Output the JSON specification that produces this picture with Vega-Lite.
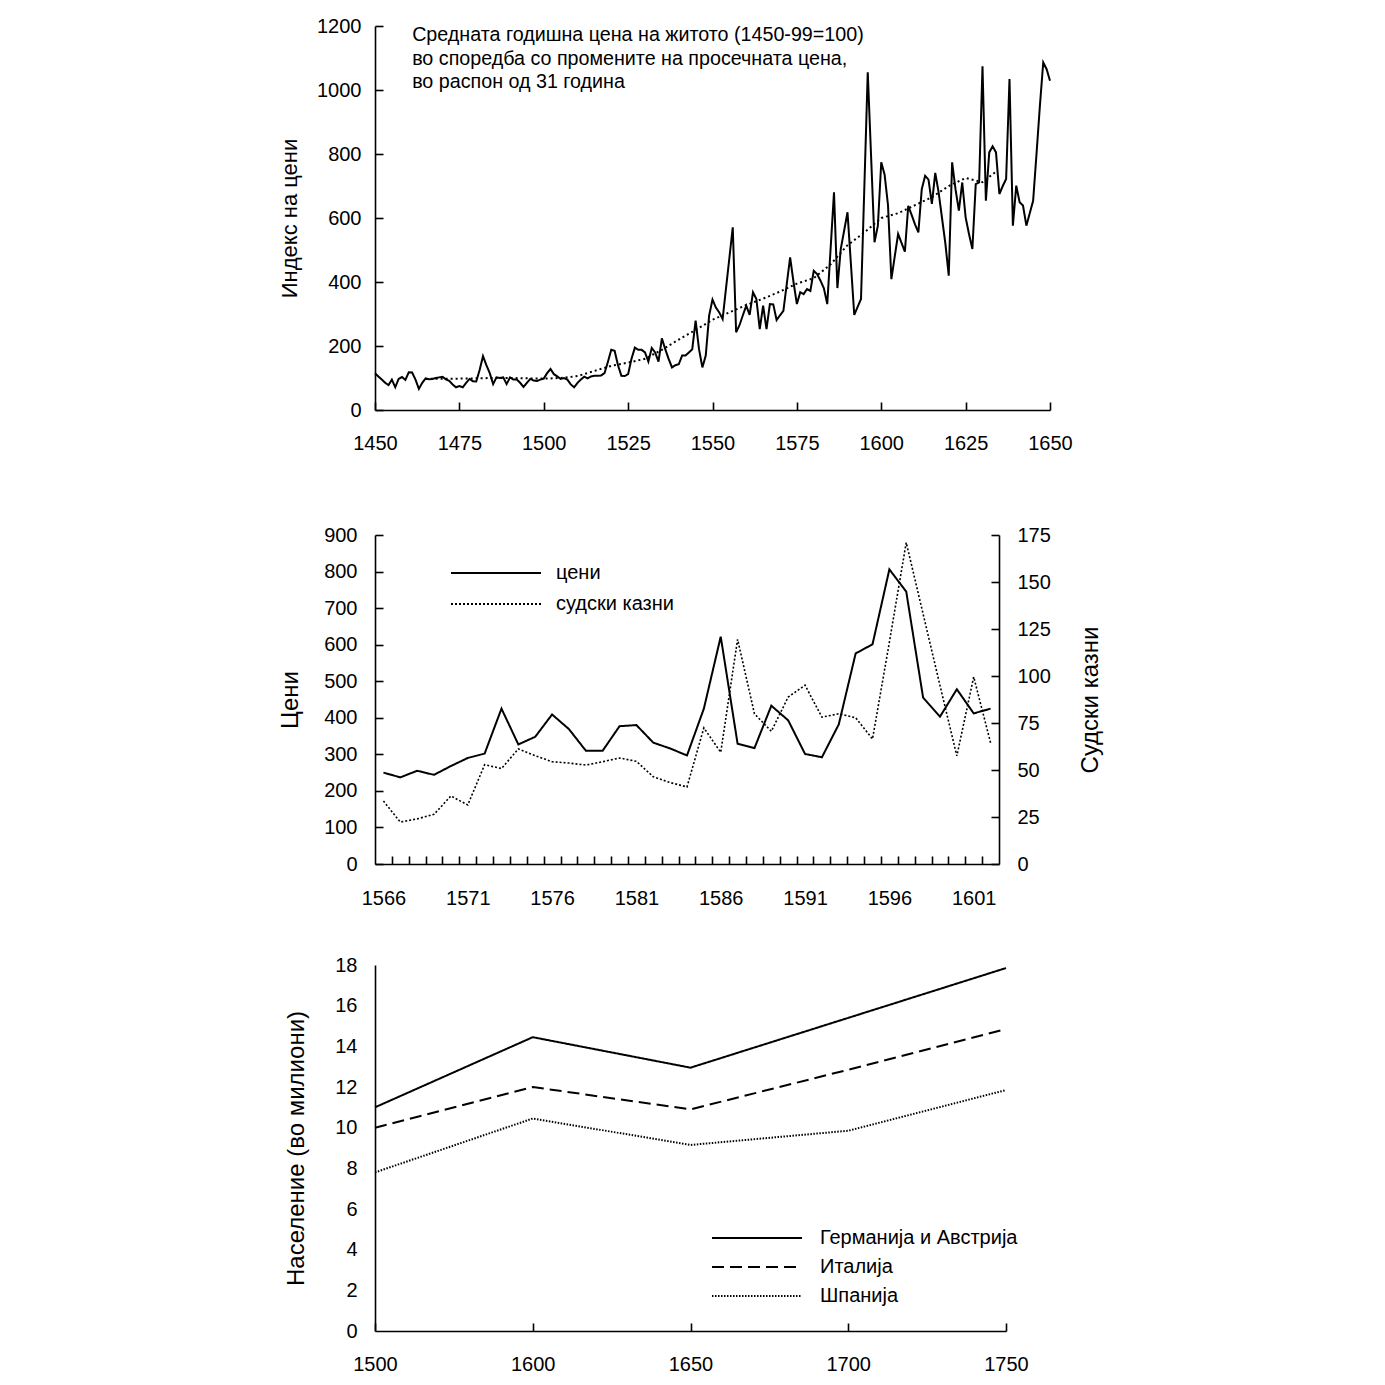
{
  "$schema": "https://vega.github.io/schema/vega-lite/v6.json",
  "background": "white",
  "padding": {"left": 278, "top": 16, "right": 5, "bottom": 5},
  "config": {
    "view": {"stroke": null},
    "font": "Liberation Sans",
    "axis": {"domainColor": "black", "domainWidth": 1.6, "tickColor": "black", "tickWidth": 1.6, "labelColor": "black", "labelFontSize": 20, "labelFont": "Liberation Sans", "titleFont": "Liberation Sans", "titleFontSize": 22, "titleFontWeight": "normal", "titleColor": "black", "grid": false, "labelFlush": false, "labelOverlap": false, "labelBound": false},
    "legend": {"labelFont": "Liberation Sans", "labelFontSize": 20, "labelColor": "black", "labelLimit": 0}
  },
  "resolve": {"scale": {"strokeDash": "independent"}, "legend": {"strokeDash": "independent"}},
  "datasets": {
    "prices": [
      {"year": 1450, "index": 115}, {"year": 1451, "index": 105}, {"year": 1452, "index": 95}, {"year": 1453, "index": 85}, {"year": 1454, "index": 78}, {"year": 1455, "index": 95}, {"year": 1456, "index": 71}, {"year": 1457, "index": 97}, {"year": 1458, "index": 103}, {"year": 1459, "index": 94}, {"year": 1460, "index": 118}, {"year": 1461, "index": 117}, {"year": 1462, "index": 95}, {"year": 1463, "index": 66}, {"year": 1464, "index": 85}, {"year": 1465, "index": 99}, {"year": 1466, "index": 96}, {"year": 1467, "index": 97}, {"year": 1468, "index": 100}, {"year": 1469, "index": 102}, {"year": 1470, "index": 104}, {"year": 1471, "index": 96}, {"year": 1472, "index": 91}, {"year": 1473, "index": 80}, {"year": 1474, "index": 71}, {"year": 1475, "index": 75}, {"year": 1476, "index": 71}, {"year": 1477, "index": 85}, {"year": 1478, "index": 97}, {"year": 1479, "index": 90}, {"year": 1480, "index": 89}, {"year": 1481, "index": 125}, {"year": 1482, "index": 168}, {"year": 1483, "index": 140}, {"year": 1484, "index": 115}, {"year": 1485, "index": 81}, {"year": 1486, "index": 102}, {"year": 1487, "index": 100}, {"year": 1488, "index": 102}, {"year": 1489, "index": 81}, {"year": 1490, "index": 102}, {"year": 1491, "index": 95}, {"year": 1492, "index": 95}, {"year": 1493, "index": 85}, {"year": 1494, "index": 72}, {"year": 1495, "index": 85}, {"year": 1496, "index": 97}, {"year": 1497, "index": 92}, {"year": 1498, "index": 91}, {"year": 1499, "index": 95},
      {"year": 1500, "index": 98}, {"year": 1501, "index": 115}, {"year": 1502, "index": 128}, {"year": 1503, "index": 112}, {"year": 1504, "index": 105}, {"year": 1505, "index": 97}, {"year": 1506, "index": 100}, {"year": 1507, "index": 95}, {"year": 1508, "index": 80}, {"year": 1509, "index": 71}, {"year": 1510, "index": 85}, {"year": 1511, "index": 95}, {"year": 1512, "index": 104}, {"year": 1513, "index": 99}, {"year": 1514, "index": 105}, {"year": 1515, "index": 107}, {"year": 1516, "index": 107}, {"year": 1517, "index": 108}, {"year": 1518, "index": 115}, {"year": 1519, "index": 150}, {"year": 1520, "index": 188}, {"year": 1521, "index": 185}, {"year": 1522, "index": 140}, {"year": 1523, "index": 107}, {"year": 1524, "index": 106}, {"year": 1525, "index": 112}, {"year": 1526, "index": 160}, {"year": 1527, "index": 195}, {"year": 1528, "index": 188}, {"year": 1529, "index": 188}, {"year": 1530, "index": 180}, {"year": 1531, "index": 151}, {"year": 1532, "index": 194}, {"year": 1533, "index": 180}, {"year": 1534, "index": 151}, {"year": 1535, "index": 224}, {"year": 1536, "index": 190}, {"year": 1537, "index": 160}, {"year": 1538, "index": 133}, {"year": 1539, "index": 140}, {"year": 1540, "index": 143}, {"year": 1541, "index": 170}, {"year": 1542, "index": 170}, {"year": 1543, "index": 180}, {"year": 1544, "index": 190}, {"year": 1545, "index": 279}, {"year": 1546, "index": 190}, {"year": 1547, "index": 133}, {"year": 1548, "index": 170}, {"year": 1549, "index": 295},
      {"year": 1550, "index": 345}, {"year": 1551, "index": 320}, {"year": 1552, "index": 305}, {"year": 1553, "index": 284}, {"year": 1554, "index": 380}, {"year": 1555, "index": 475}, {"year": 1556, "index": 571}, {"year": 1557, "index": 243}, {"year": 1558, "index": 265}, {"year": 1559, "index": 296}, {"year": 1560, "index": 326}, {"year": 1561, "index": 297}, {"year": 1562, "index": 368}, {"year": 1563, "index": 347}, {"year": 1564, "index": 253}, {"year": 1565, "index": 326}, {"year": 1566, "index": 253}, {"year": 1567, "index": 331}, {"year": 1568, "index": 330}, {"year": 1569, "index": 281}, {"year": 1570, "index": 296}, {"year": 1571, "index": 310}, {"year": 1572, "index": 393}, {"year": 1573, "index": 477}, {"year": 1574, "index": 400}, {"year": 1575, "index": 331}, {"year": 1576, "index": 368}, {"year": 1577, "index": 362}, {"year": 1578, "index": 378}, {"year": 1579, "index": 372}, {"year": 1580, "index": 435}, {"year": 1581, "index": 425}, {"year": 1582, "index": 404}, {"year": 1583, "index": 380}, {"year": 1584, "index": 331}, {"year": 1585, "index": 505}, {"year": 1586, "index": 680}, {"year": 1587, "index": 381}, {"year": 1588, "index": 503}, {"year": 1589, "index": 560}, {"year": 1590, "index": 618}, {"year": 1591, "index": 458}, {"year": 1592, "index": 297}, {"year": 1593, "index": 322}, {"year": 1594, "index": 347}, {"year": 1595, "index": 700}, {"year": 1596, "index": 1055}, {"year": 1597, "index": 790}, {"year": 1598, "index": 524}, {"year": 1599, "index": 576},
      {"year": 1600, "index": 774}, {"year": 1601, "index": 735}, {"year": 1602, "index": 640}, {"year": 1603, "index": 409}, {"year": 1604, "index": 480}, {"year": 1605, "index": 550}, {"year": 1606, "index": 522}, {"year": 1607, "index": 495}, {"year": 1608, "index": 638}, {"year": 1609, "index": 610}, {"year": 1610, "index": 580}, {"year": 1611, "index": 555}, {"year": 1612, "index": 690}, {"year": 1613, "index": 732}, {"year": 1614, "index": 720}, {"year": 1615, "index": 644}, {"year": 1616, "index": 741}, {"year": 1617, "index": 680}, {"year": 1618, "index": 600}, {"year": 1619, "index": 520}, {"year": 1620, "index": 420}, {"year": 1621, "index": 774}, {"year": 1622, "index": 690}, {"year": 1623, "index": 623}, {"year": 1624, "index": 711}, {"year": 1625, "index": 602}, {"year": 1626, "index": 550}, {"year": 1627, "index": 503}, {"year": 1628, "index": 706}, {"year": 1629, "index": 711}, {"year": 1630, "index": 1074}, {"year": 1631, "index": 654}, {"year": 1632, "index": 805}, {"year": 1633, "index": 824}, {"year": 1634, "index": 805}, {"year": 1635, "index": 675}, {"year": 1636, "index": 700}, {"year": 1637, "index": 722}, {"year": 1638, "index": 1034}, {"year": 1639, "index": 576}, {"year": 1640, "index": 701}, {"year": 1641, "index": 649}, {"year": 1642, "index": 639}, {"year": 1643, "index": 576}, {"year": 1644, "index": 615}, {"year": 1645, "index": 654}, {"year": 1646, "index": 800}, {"year": 1647, "index": 950}, {"year": 1648, "index": 1086}, {"year": 1649, "index": 1065}, {"year": 1650, "index": 1029}
    ],
    "trend": [
      {"year": 1465, "index": 97}, {"year": 1470, "index": 98}, {"year": 1475, "index": 98}, {"year": 1480, "index": 99}, {"year": 1485, "index": 100}, {"year": 1490, "index": 100}, {"year": 1495, "index": 99}, {"year": 1500, "index": 98}, {"year": 1505, "index": 100}, {"year": 1510, "index": 106}, {"year": 1515, "index": 122}, {"year": 1520, "index": 138}, {"year": 1525, "index": 148}, {"year": 1530, "index": 160}, {"year": 1535, "index": 188}, {"year": 1540, "index": 220}, {"year": 1545, "index": 250}, {"year": 1550, "index": 282}, {"year": 1555, "index": 305}, {"year": 1560, "index": 328}, {"year": 1565, "index": 348}, {"year": 1570, "index": 370}, {"year": 1575, "index": 395}, {"year": 1580, "index": 412}, {"year": 1585, "index": 455}, {"year": 1590, "index": 515}, {"year": 1595, "index": 555}, {"year": 1600, "index": 600}, {"year": 1605, "index": 615}, {"year": 1610, "index": 640}, {"year": 1615, "index": 665}, {"year": 1620, "index": 700}, {"year": 1625, "index": 725}, {"year": 1630, "index": 712}, {"year": 1634, "index": 745}
    ],
    "court": [
      {"year": 1566, "series": "цени", "value": 250}, {"year": 1567, "series": "цени", "value": 237}, {"year": 1568, "series": "цени", "value": 255}, {"year": 1569, "series": "цени", "value": 244}, {"year": 1570, "series": "цени", "value": 268}, {"year": 1571, "series": "цени", "value": 290}, {"year": 1572, "series": "цени", "value": 302}, {"year": 1573, "series": "цени", "value": 425}, {"year": 1574, "series": "цени", "value": 327}, {"year": 1575, "series": "цени", "value": 348}, {"year": 1576, "series": "цени", "value": 409}, {"year": 1577, "series": "цени", "value": 369}, {"year": 1578, "series": "цени", "value": 310}, {"year": 1579, "series": "цени", "value": 310}, {"year": 1580, "series": "цени", "value": 377}, {"year": 1581, "series": "цени", "value": 380}, {"year": 1582, "series": "цени", "value": 332}, {"year": 1583, "series": "цени", "value": 316}, {"year": 1584, "series": "цени", "value": 297}, {"year": 1585, "series": "цени", "value": 425}, {"year": 1586, "series": "цени", "value": 622}, {"year": 1587, "series": "цени", "value": 329}, {"year": 1588, "series": "цени", "value": 317}, {"year": 1589, "series": "цени", "value": 433}, {"year": 1590, "series": "цени", "value": 393}, {"year": 1591, "series": "цени", "value": 301}, {"year": 1592, "series": "цени", "value": 292}, {"year": 1593, "series": "цени", "value": 382}, {"year": 1594, "series": "цени", "value": 576}, {"year": 1595, "series": "цени", "value": 601}, {"year": 1596, "series": "цени", "value": 806}, {"year": 1597, "series": "цени", "value": 745}, {"year": 1598, "series": "цени", "value": 455}, {"year": 1599, "series": "цени", "value": 403}, {"year": 1600, "series": "цени", "value": 478}, {"year": 1601, "series": "цени", "value": 412}, {"year": 1602, "series": "цени", "value": 425},
      {"year": 1566, "series": "судски казни", "value": 33.5}, {"year": 1567, "series": "судски казни", "value": 22.3}, {"year": 1568, "series": "судски казни", "value": 24}, {"year": 1569, "series": "судски казни", "value": 26.4}, {"year": 1570, "series": "судски казни", "value": 36.2}, {"year": 1571, "series": "судски казни", "value": 31.4}, {"year": 1572, "series": "судски казни", "value": 52.8}, {"year": 1573, "series": "судски казни", "value": 50.8}, {"year": 1574, "series": "судски казни", "value": 61.2}, {"year": 1575, "series": "судски казни", "value": 57.6}, {"year": 1576, "series": "судски казни", "value": 54.4}, {"year": 1577, "series": "судски казни", "value": 53.7}, {"year": 1578, "series": "судски казни", "value": 52.6}, {"year": 1579, "series": "судски казни", "value": 54.4}, {"year": 1580, "series": "судски казни", "value": 56.4}, {"year": 1581, "series": "судски казни", "value": 54.6}, {"year": 1582, "series": "судски казни", "value": 46.4}, {"year": 1583, "series": "судски казни", "value": 43.3}, {"year": 1584, "series": "судски казни", "value": 41}, {"year": 1585, "series": "судски казни", "value": 72.4}, {"year": 1586, "series": "судски казни", "value": 59.4}, {"year": 1587, "series": "судски казни", "value": 119.5}, {"year": 1588, "series": "судски казни", "value": 79.9}, {"year": 1589, "series": "судски казни", "value": 70.6}, {"year": 1590, "series": "судски казни", "value": 88.8}, {"year": 1591, "series": "судски казни", "value": 95.1}, {"year": 1592, "series": "судски казни", "value": 78.1}, {"year": 1593, "series": "судски казни", "value": 79.9}, {"year": 1594, "series": "судски казни", "value": 77.8}, {"year": 1595, "series": "судски казни", "value": 66.5}, {"year": 1596, "series": "судски казни", "value": 118}, {"year": 1597, "series": "судски казни", "value": 171}, {"year": 1598, "series": "судски казни", "value": 133}, {"year": 1599, "series": "судски казни", "value": 95}, {"year": 1600, "series": "судски казни", "value": 57.5}, {"year": 1601, "series": "судски казни", "value": 99.5}, {"year": 1602, "series": "судски казни", "value": 64.5}
    ],
    "pop": [
      {"year": 1500, "country": "Германија и Австрија", "pop": 11.0}, {"year": 1600, "country": "Германија и Австрија", "pop": 14.45}, {"year": 1650, "country": "Германија и Австрија", "pop": 12.95}, {"year": 1700, "country": "Германија и Австрија", "pop": 15.4}, {"year": 1750, "country": "Германија и Австрија", "pop": 17.85},
      {"year": 1500, "country": "Италија", "pop": 10.0}, {"year": 1600, "country": "Италија", "pop": 12.0}, {"year": 1650, "country": "Италија", "pop": 10.9}, {"year": 1700, "country": "Италија", "pop": 12.85}, {"year": 1750, "country": "Италија", "pop": 14.85},
      {"year": 1500, "country": "Шпанија", "pop": 7.8}, {"year": 1600, "country": "Шпанија", "pop": 10.45}, {"year": 1650, "country": "Шпанија", "pop": 9.15}, {"year": 1700, "country": "Шпанија", "pop": 9.85}, {"year": 1750, "country": "Шпанија", "pop": 11.85}
    ]
  },
  "bounds": "flush",
  "spacing": 101,
  "vconcat": [
    {
      "width": 675,
      "height": 384,
      "layer": [
        {
          "data": {"name": "prices"},
          "mark": {"type": "line", "color": "black", "strokeWidth": 2},
          "encoding": {
            "x": {"field": "year", "type": "quantitative", "scale": {"domain": [1450, 1650], "nice": false, "zero": false},
                  "axis": {"title": null, "values": [1450, 1475, 1500, 1525, 1550, 1575, 1600, 1625, 1650], "format": "d", "tickSize": -8, "labelPadding": 31, "labelOverlap": false}},
            "y": {"field": "index", "type": "quantitative", "scale": {"domain": [0, 1200], "nice": false},
                  "axis": {"title": "Индекс на цени", "values": [0, 200, 400, 600, 800, 1000, 1200], "format": "d", "tickSize": -8, "labelPadding": 22, "titlePadding": 15, "titleFontSize": 22}}
          }
        },
        {
          "data": {"name": "trend"},
          "mark": {"type": "line", "color": "black", "strokeWidth": 2, "strokeDash": [2, 3]},
          "encoding": {
            "x": {"field": "year", "type": "quantitative"},
            "y": {"field": "index", "type": "quantitative"}
          }
        },
        {
          "data": {"values": [{"note": "annotation"}]},
          "mark": {"type": "text", "align": "left", "baseline": "alphabetic", "fontSize": 19.7, "lineHeight": 23.5, "font": "Liberation Sans", "color": "black"},
          "encoding": {
            "x": {"datum": 1461, "type": "quantitative"},
            "y": {"datum": 1153, "type": "quantitative"},
            "text": {"value": ["Средната годишна цена на житото (1450-99=100)", "во споредба со промените на просечната цена,", "во распон од 31 година"]}
          }
        }
      ]
    },
    {
      "width": 624,
      "height": 353,
      "layer": [
        {
          "data": {"name": "court"},
          "transform": [{"filter": "datum.series === 'цени'"}],
          "mark": {"type": "line", "color": "black", "strokeWidth": 2},
          "encoding": {
            "x": {"field": "year", "type": "quantitative", "scale": {"domain": [1565.5, 1602.5], "nice": false, "zero": false},
                  "axis": {"title": null, "values": [1566, 1567, 1568, 1569, 1570, 1571, 1572, 1573, 1574, 1575, 1576, 1577, 1578, 1579, 1580, 1581, 1582, 1583, 1584, 1585, 1586, 1587, 1588, 1589, 1590, 1591, 1592, 1593, 1594, 1595, 1596, 1597, 1598, 1599, 1600, 1601],
                           "format": "d", "tickOffset": 8.43, "labelOffset": -8.43, "labelExpr": "(datum.value - 1566) % 5 == 0 ? datum.label : ''", "tickSize": -8, "labelPadding": 32, "labelOverlap": false}},
            "y": {"field": "value", "type": "quantitative", "scale": {"domain": [0, 900], "nice": false, "range": [353, 24]},
                  "axis": {"title": "Цени", "values": [0, 100, 200, 300, 400, 500, 600, 700, 800, 900], "tickSize": -8, "labelPadding": 26, "titlePadding": 21, "titleFontSize": 24}},
            "strokeDash": {"field": "series", "type": "nominal", "scale": {"domain": ["цени", "судски казни"], "range": [[1, 0], [2, 2]]},
                  "legend": {"title": null, "orient": "none", "legendX": 71, "legendY": 52, "symbolType": "M-1,0H17", "symbolSize": 100, "symbolStrokeWidth": 2, "symbolStrokeColor": "black", "symbolFillColor": "transparent", "labelOffset": 90, "rowPadding": 11, "padding": 0, "labelFontSize": 20}}
          }
        },
        {
          "data": {"name": "court"},
          "transform": [{"filter": "datum.series === 'судски казни'"}],
          "mark": {"type": "line", "color": "black", "strokeWidth": 1.6},
          "encoding": {
            "x": {"field": "year", "type": "quantitative",
                  "axis": {"title": null, "values": [1566, 1567, 1568, 1569, 1570, 1571, 1572, 1573, 1574, 1575, 1576, 1577, 1578, 1579, 1580, 1581, 1582, 1583, 1584, 1585, 1586, 1587, 1588, 1589, 1590, 1591, 1592, 1593, 1594, 1595, 1596, 1597, 1598, 1599, 1600, 1601],
                           "format": "d", "tickOffset": 8.43, "labelOffset": -8.43, "labelExpr": "(datum.value - 1566) % 5 == 0 ? datum.label : ''", "tickSize": -8, "labelPadding": 32, "labelOverlap": false}},
            "y": {"field": "value", "type": "quantitative", "scale": {"domain": [0, 175], "nice": false, "range": [353, 24]},
                  "axis": {"title": "Судски казни", "orient": "right", "values": [0, 25, 50, 75, 100, 125, 150, 175], "tickSize": -8, "labelPadding": 26, "titlePadding": 28, "titleAngle": -90, "titleBaseline": "top", "titleFontSize": 24}},
            "strokeDash": {"field": "series", "type": "nominal", "scale": {"domain": ["цени", "судски казни"], "range": [[1, 0], [2, 2]]},
                  "legend": {"title": null, "orient": "none", "legendX": 71, "legendY": 52, "symbolType": "M-1,0H17", "symbolSize": 100, "symbolStrokeWidth": 2, "symbolStrokeColor": "black", "symbolFillColor": "transparent", "labelOffset": 90, "rowPadding": 11, "padding": 0, "labelFontSize": 20}}
          }
        }
      ],
      "resolve": {"scale": {"y": "independent"}}
    },
    {
      "width": 631,
      "height": 366,
      "data": {"name": "pop"},
      "mark": {"type": "line", "color": "black", "strokeWidth": 2},
      "encoding": {
        "x": {"field": "year", "type": "ordinal", "scale": {"type": "point", "padding": 0, "domain": [1500, 1600, 1650, 1700, 1750]},
              "axis": {"title": null, "labelAngle": 0, "tickSize": -8, "labelPadding": 31}},
        "y": {"field": "pop", "type": "quantitative", "scale": {"domain": [0, 18], "nice": false},
              "axis": {"title": "Население (во милиони)", "values": [0, 2, 4, 6, 8, 10, 12, 14, 16, 18], "ticks": false, "labelPadding": 18, "titlePadding": 26, "titleFontSize": 24}},
        "strokeDash": {"field": "country", "type": "nominal", "scale": {"domain": ["Германија и Австрија", "Италија", "Шпанија"], "range": [[1, 0], [12, 6], [1.5, 1.5]]},
              "legend": {"title": null, "orient": "none", "legendX": 332, "legendY": 263, "symbolType": "M-1,0H17", "symbolSize": 100, "symbolStrokeWidth": 2, "symbolStrokeColor": "black", "symbolFillColor": "transparent", "labelOffset": 93, "rowPadding": 9, "padding": 0, "labelFontSize": 20, "labelLimit": 0}}
      }
    }
  ]
}
